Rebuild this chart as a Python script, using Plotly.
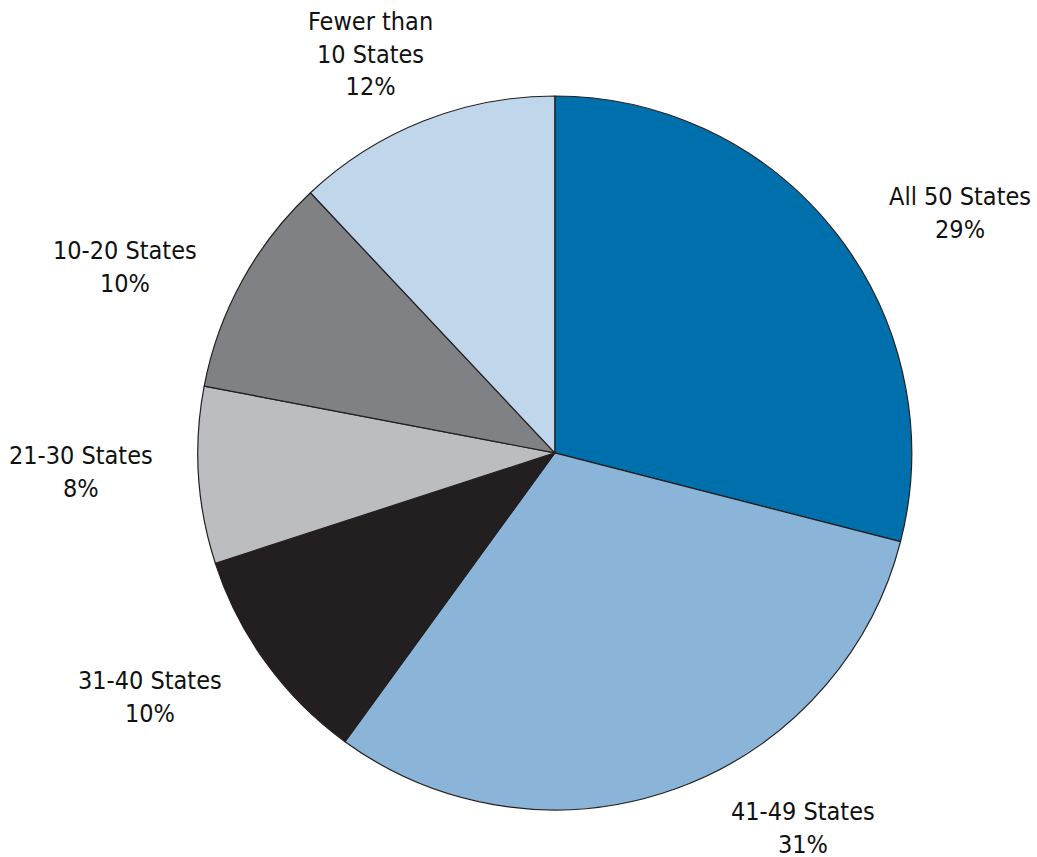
import plotly.graph_objects as go

# Share of respondents by number of states covered
categories = ["All 50 States", "41-49 States", "31-40 States",
              "21-30 States", "10-20 States", "Fewer than<br>10 States"]
shares = [29, 31, 10, 8, 10, 12]
colors = ["#0070AD", "#8AB4D8", "#231F20", "#BCBDC0", "#808184", "#C0D6EA"]

# Label anchor points (paper fractions), one per slice
label_x = [0.926, 0.774, 0.145, 0.078, 0.121, 0.357]
label_y = [0.752, 0.034, 0.187, 0.449, 0.689, 0.937]

W, H = 1037, 857
font_family = "DejaVu Sans Condensed, Liberation Sans Narrow, sans-serif"

fig = go.Figure(go.Pie(
    labels=categories,
    values=shares,
    sort=False,
    direction="clockwise",
    rotation=0,
    marker=dict(colors=colors, line=dict(color="#231F20", width=1.2)),
    textinfo="none",
    hoverinfo="skip",
    showlegend=False,
    domain=dict(x=[0.19, 0.88], y=[0.055, 0.888]),
))

for name, val, lx, ly in zip(categories, shares, label_x, label_y):
    fig.add_annotation(
        x=lx, y=ly, xref="paper", yref="paper",
        xanchor="center", yanchor="middle",
        text=f"{name}<br>{val}%",
        showarrow=False, align="center",
        font=dict(family=font_family, size=25, color="#111111"),
    )

fig.update_layout(
    width=W, height=H,
    margin=dict(l=0, r=0, t=0, b=0),
    paper_bgcolor="white",
    plot_bgcolor="white",
)

fig.write_html("out.html")
